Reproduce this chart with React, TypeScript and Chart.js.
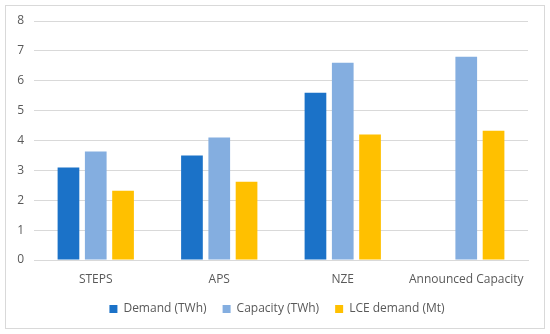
import React, { useEffect, useRef } from "react";
import { Chart, registerables } from "chart.js";

Chart.register(...registerables);

const categories = ["STEPS", "APS", "NZE", "Announced Capacity"];
const demand = [3.1, 3.5, 5.6, null];
const capacity = [3.63, 4.1, 6.6, 6.8];
const lceDemand = [2.32, 2.62, 4.2, 4.33];
const seriesNames = ["Demand (TWh)", "Capacity (TWh)", "LCE demand (Mt)"];
const seriesColors = ["#1B72C8", "#84AEE0", "#FFC000"];

const borderPlugin = {
  id: "outerBorder",
  beforeDraw(chart: any) {
    const ctx = chart.ctx;
    ctx.save();
    ctx.fillStyle = "#ffffff";
    ctx.fillRect(0, 0, chart.width, chart.height);
    ctx.strokeStyle = "#d9d9d9";
    ctx.lineWidth = 1;
    ctx.strokeRect(5.5, 5.5, chart.width - 11, chart.height - 11);
    ctx.restore();
  },
  afterLayout(chart: any) {
    if (chart.legend) {
      chart.legend.left = 5;
      chart.legend.right = chart.width - 1;
    }
  },
};

export default function App() {
  const ref = useRef<HTMLCanvasElement>(null);
  useEffect(() => {
    document.body.style.margin = "0";
    const font = { family: "'Open Sans', 'Liberation Sans', sans-serif", size: 12 };
    const chart = new Chart(ref.current!, {
      type: "bar",
      data: {
        labels: categories,
        datasets: [demand, capacity, lceDemand].map((d, i) => ({
          label: seriesNames[i],
          data: d as any,
          backgroundColor: seriesColors[i],
          categoryPercentage: 0.663,
          barPercentage: 0.795,
        })),
      },
      options: {
        animation: false,
        responsive: false,
        maintainAspectRatio: false,
        layout: { padding: { left: 5, right: 22, top: 21, bottom: 9 } },
        plugins: {
          legend: {
            position: "bottom",
            labels: {
              boxWidth: 8,
              boxHeight: 8,
              padding: 16,
              color: "#595959",
              font,
            },
          },
          tooltip: { enabled: false },
        },
        scales: {
          x: {
            grid: { display: false },
            border: { display: true, color: "#d9d9d9" },
            ticks: { color: "#595959", font, padding: 4, maxRotation: 0 },
            afterFit: (s: any) => {
              s.height = 27;
            },
          },
          y: {
            min: 0,
            max: 8,
            ticks: { stepSize: 1, color: "#595959", font, padding: 10 },
            grid: { color: "#d9d9d9", drawTicks: false },
            border: { display: false },
            afterFit: (s: any) => {
              s.width = 29;
            },
          },
        },
      },
      plugins: [borderPlugin],
    });
    return () => chart.destroy();
  }, []);
  return <canvas ref={ref} width={550} height={334} style={{ display: "block" }} />;
}
